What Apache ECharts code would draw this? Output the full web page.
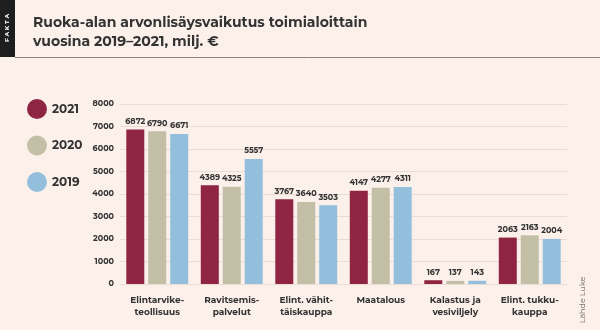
<!DOCTYPE html>
<html><head><meta charset="utf-8">
<script src="https://cdn.jsdelivr.net/npm/echarts@6/dist/echarts.min.js"></script>
<style>html,body{margin:0;padding:0;background:#fcf0ea}#c{width:600px;height:330px}</style>
</head><body><div id="c"></div>
<script>
const categories = ['Elintarvike-\nteollisuus','Ravitsemis-\npalvelut','Elint. vähit-\ntäiskauppa','Maatalous','Kalastus ja\nvesiviljely','Elint. tukku-\nkauppa'];
const years = ['2021','2020','2019'];
const v2021 = [6872,4389,3767,4147,167,2063];
const v2020 = [6790,4325,3640,4277,137,2163];
const v2019 = [6671,5557,3503,4311,143,2004];
const yTicks = [0,1000,2000,3000,4000,5000,6000,7000,8000];
const colors = ['#8f2443','#c3bea6','#93bfdc'];
const font = 'Montserrat, "Open Sans", "DejaVu Sans", sans-serif';
const chart = echarts.init(document.getElementById('c'));
const mk = (name, data, color) => ({
  name, type:'bar', data, barWidth:18, barGap:'22%',
  itemStyle:{color},
  label:{show:true, position:'top', distance:4, color:'#333', fontSize:8, fontWeight:'bold', fontFamily:font}
});
chart.setOption({
  backgroundColor:'#fcf0ea',
  animation:false,
  legend:{orient:'vertical', left:22, top:94, itemWidth:20, itemHeight:20, itemGap:16.5,
    icon:'circle', data:years, textStyle:{color:'#333', fontSize:12, fontWeight:'bold', fontFamily:font}},
  grid:{left:120, right:33, top:104, bottom:46},
  xAxis:{type:'category', data:categories, axisTick:{show:false},
    axisLine:{show:true, lineStyle:{color:'#eadcd5'}},
    axisLabel:{interval:0, color:'#333', fontSize:9, fontWeight:'bold', fontFamily:font, margin:10, lineHeight:12}},
  yAxis:{type:'value', min:yTicks[0], max:yTicks[yTicks.length-1], interval:1000,
    axisLabel:{color:'#333', fontSize:8, fontWeight:'bold', fontFamily:font, margin:6, formatter:v=>String(v)},
    splitLine:{lineStyle:{color:'#eadcd5', width:1}}, axisLine:{show:false}, axisTick:{show:false}},
  series:[mk(years[0], v2021, colors[0]), mk(years[1], v2020, colors[1]), mk(years[2], v2019, colors[2])],
  graphic:[
    {type:'rect', shape:{x:0,y:0,width:15,height:57}, style:{fill:'#1e1e1e'}},
    {type:'text', x:7.5, y:28, rotation:Math.PI/2, style:{text:'F A K T A', fill:'#fff', fontSize:6, fontWeight:'bold', fontFamily:font, align:'center', verticalAlign:'middle'}},
    {type:'line', shape:{x1:15,y1:57.5,x2:600,y2:57.5}, style:{stroke:'#8c8480', lineWidth:1}},
    {type:'text', x:33, y:13, style:{text:'Ruoka-alan arvonlisäysvaikutus toimialoittain\nvuosina 2019–2021, milj. €', fill:'#333', fontSize:14, fontWeight:'bold', fontFamily:font, lineHeight:19}},
    {type:'text', x:583, y:300, rotation:Math.PI/2, style:{text:'Lähde Luke', fill:'#666', fontSize:8, fontFamily:font, align:'center', verticalAlign:'middle'}}
  ]
});
</script></body></html>
